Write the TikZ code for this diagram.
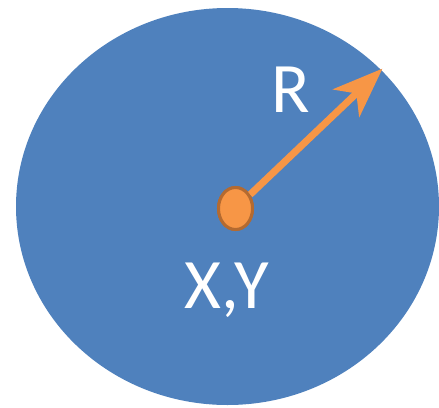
\documentclass[tikz,border=0pt]{standalone}
\usepackage{fontspec}
\setmainfont{Carlito}
\usepackage{xcolor}
\usepackage{tikz}
\usetikzlibrary{positioning,arrows.meta,shapes.geometric,calc}

\definecolor{diskblue}{HTML}{4F81BD}
\definecolor{dotorange}{HTML}{F79646}
\definecolor{dotbrown}{HTML}{B46A30}

\tikzset{
  disk/.style={ellipse, fill=diskblue, inner sep=0pt,
               minimum width=423pt, minimum height=397pt},
  centerdot/.style={ellipse, fill=dotorange, draw=dotbrown, line width=3pt,
                    inner sep=0pt, minimum width=34pt, minimum height=42pt},
  radiusarrow/.style={dotorange, line width=7pt,
                      -{Stealth[length=50pt, width=38pt, inset=14pt]}},
  bigtext/.style={text=white, font=\fontsize{71}{80}\selectfont, inner sep=0pt}
}

\begin{document}
\begin{tikzpicture}[x=1pt, y=-1pt]
    \useasboundingbox (0,0) rectangle (439,407);
    \node[disk] (circle) at (227.5,206.5) {};
    \coordinate (rim) at (381,70);
    \node[centerdot] (center) at (235.5,208.5) {};
    \draw[radiusarrow, shorten >=-2pt] (center) -- (rim);
    \node[centerdot] at (center) {};
    \node[bigtext, anchor=base] (rlabel) at (291,112) {R};
    \node[bigtext, anchor=base] (xylabel) at (227,308) {X,Y};
  \end{tikzpicture}
\end{document}
